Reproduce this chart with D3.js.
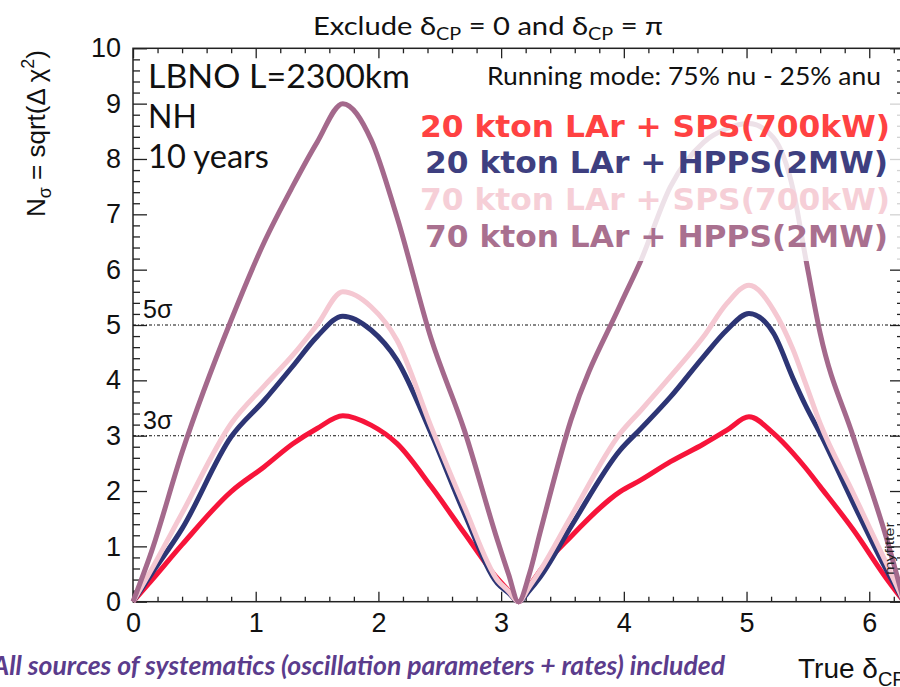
<!DOCTYPE html>
<html>
<head>
<meta charset="utf-8">
<script src="https://cdn.jsdelivr.net/npm/d3@7"></script>
<style>
  html, body { margin: 0; padding: 0; background: #fff; }
  svg { display: block; }
</style>
</head>
<body>
<svg id="chart" width="900" height="687"></svg>
<script>
// True delta_CP values (radians) where the sensitivity curves are sampled
const deltaCP = [0, 0.15, 0.4, 0.8, 1.07, 1.3, 1.5, 1.71, 1.94, 2.15, 2.43, 2.7, 2.97, 3.06, Math.PI,
  3.23, 3.32, 3.57, 3.97, 4.14, 4.38, 4.65, 4.84, 5.02, 5.22, 5.38, 5.48, 5.6, 5.87, 6.14, 2 * Math.PI];

// N_sigma = sqrt(delta chi^2) for each configuration
const lar20Sps  = [0, 0.38, 1.03, 1.99, 2.44, 2.85, 3.13, 3.36, 3.19, 2.86, 2.08, 1.24, 0.42, 0.2, 0,
  0.28, 0.57, 1.18, 1.99, 2.2, 2.53, 2.85, 3.1, 3.34, 3.04, 2.68, 2.42, 2.08, 1.3, 0.42, 0];
const lar20Hpps = [0, 0.5, 1.32, 2.98, 3.64, 4.25, 4.79, 5.16, 4.91, 4.37, 3.04, 1.6, 0.33, 0.16, 0,
  0.2, 0.45, 1.36, 2.74, 3.13, 3.7, 4.43, 4.91, 5.21, 4.85, 4.03, 3.55, 3.04, 1.78, 0.57, 0];
const lar70Sps  = [0, 0.58, 1.6, 3.22, 3.9, 4.45, 5.0, 5.6, 5.33, 4.73, 3.16, 1.72, 0.39, 0.19, 0,
  0.27, 0.57, 1.54, 3.04, 3.46, 4.07, 4.79, 5.39, 5.72, 5.27, 4.55, 3.95, 3.22, 1.96, 0.69, 0];
const lar70Hpps = [0, 0.9, 2.7, 5.09, 6.5, 7.5, 8.3, 9.0, 8.35, 6.96, 4.75, 3.1, 1.11, 0.5, 0,
  0.5, 1.27, 3.29, 5.36, 6.17, 7.5, 8.3, 8.55, 8.64, 8.38, 7.44, 6.23, 4.85, 2.98, 1.15, 0];

const seriesNames = [
  "20 kton LAr + SPS(700kW)",
  "20 kton LAr + HPPS(2MW)",
  "70 kton LAr + SPS(700kW)",
  "70 kton LAr + HPPS(2MW)"
];
const seriesValues = [lar20Sps, lar20Hpps, lar70Sps, lar70Hpps];
const lineColors = ["#f7143a", "#2d3575", "#f5c8d2", "#a4698c"];
const labelColors = ["#ff4242", "#3e3f80", "#f6cfd7", "#a9708f"];

// Axis ticks
const xMajor = [0, 1, 2, 3, 4, 5, 6];
const yMajor = [0, 1, 2, 3, 4, 5, 6, 7, 8, 9, 10];
const sigmaLevels = [3, 5];
const sigmaLabels = ["3σ", "5σ"];

const svg = d3.select("#chart");
const x = d3.scaleLinear().domain([0, 2 * Math.PI]).range([133, 904]);
const y = d3.scaleLinear().domain([0, 10]).range([601.7, 48.3]);

const xMinor = d3.range(0, 6.3, 0.2).filter(v => Math.abs(v - Math.round(v)) > 1e-6);
const yMinor = d3.range(0, 10, 0.2).filter(v => Math.abs(v - Math.round(v)) > 1e-6);

const axisFont = "'Liberation Sans', Arial, Helvetica, sans-serif";
const tickColor = "#222";

function styleAxis(g) {
  g.select(".domain").remove();
  g.selectAll(".tick line").attr("stroke", tickColor).attr("stroke-width", 1.3);
  g.selectAll(".tick text").attr("fill", "#111").style("font-family", axisFont).style("font-size", "27px");
}

// Bottom axis
svg.append("g").attr("transform", `translate(0,${y(0)})`)
  .call(d3.axisBottom(x).tickValues(xMajor).tickSize(-10).tickPadding(11).tickFormat(d3.format("d")))
  .call(styleAxis);
svg.append("g").attr("transform", `translate(0,${y(0)})`)
  .call(d3.axisBottom(x).tickValues(xMinor).tickSize(-5).tickFormat(""))
  .call(styleAxis);
// Top axis (mirrored ticks)
svg.append("g").attr("transform", `translate(0,${y(10)})`)
  .call(d3.axisTop(x).tickValues(xMajor).tickSize(-10).tickFormat(""))
  .call(styleAxis);
svg.append("g").attr("transform", `translate(0,${y(10)})`)
  .call(d3.axisTop(x).tickValues(xMinor).tickSize(-5).tickFormat(""))
  .call(styleAxis);
// Left axis
svg.append("g").attr("transform", `translate(${x(0)},0)`)
  .call(d3.axisLeft(y).tickValues(yMajor).tickSize(-14).tickPadding(12).tickFormat(d3.format("d")))
  .call(styleAxis);
svg.append("g").attr("transform", `translate(${x(0)},0)`)
  .call(d3.axisLeft(y).tickValues(yMinor).tickSize(-7).tickFormat(""))
  .call(styleAxis);
// Right axis (mirrored ticks)
svg.append("g").attr("transform", `translate(${x(2 * Math.PI)},0)`)
  .call(d3.axisRight(y).tickValues(yMajor).tickSize(-14).tickFormat(""))
  .call(styleAxis);
svg.append("g").attr("transform", `translate(${x(2 * Math.PI)},0)`)
  .call(d3.axisRight(y).tickValues(yMinor).tickSize(-7).tickFormat(""))
  .call(styleAxis);

// Frame
svg.append("rect")
  .attr("x", x(0)).attr("y", y(10))
  .attr("width", x(2 * Math.PI) - x(0)).attr("height", y(0) - y(10))
  .attr("fill", "none").attr("stroke", tickColor).attr("stroke-width", 1.5);

// 3 sigma and 5 sigma reference lines
svg.selectAll("line.sigma").data(sigmaLevels).join("line")
  .attr("class", "sigma")
  .attr("x1", x(0)).attr("x2", x(2 * Math.PI))
  .attr("y1", d => y(d)).attr("y2", d => y(d))
  .attr("stroke", "#111").attr("stroke-width", 1.1)
  .attr("stroke-dasharray", "3,2,1,2");
svg.selectAll("text.sigma").data(sigmaLevels).join("text")
  .attr("class", "sigma")
  .attr("x", 143).attr("y", d => y(d) - 7)
  .style("font-family", axisFont).style("font-size", "25px").attr("fill", "#111")
  .text((d, i) => sigmaLabels[i]);

// Sensitivity curves
const line = d3.line()
  .x((d, i) => x(deltaCP[i]))
  .y(d => y(d))
  .curve(d3.curveMonotoneX);

const plot = svg.append("g");
plot.selectAll("path.curve").data(seriesValues).join("path")
  .attr("class", "curve")
  .attr("d", d => line(d))
  .attr("fill", "none")
  .attr("stroke", (d, i) => lineColors[i])
  .attr("stroke-width", 5)
  .attr("stroke-linejoin", "round");

// Translucent legend panel
svg.append("rect")
  .attr("x", 412).attr("y", 98).attr("width", 492).attr("height", 163)
  .attr("fill", "#fff").attr("fill-opacity", 0.8);

const textFont = "Lato, 'Open Sans', sans-serif";

// Legend entries
const legendX = [420, 425, 420, 425];
const legendLen = [470, 463, 470, 463];
const legendBase = [137, 173, 210, 247];
svg.selectAll("text.legend").data(seriesNames).join("text")
  .attr("class", "legend")
  .attr("x", (d, i) => legendX[i]).attr("y", (d, i) => legendBase[i])
  .attr("textLength", (d, i) => legendLen[i]).attr("lengthAdjust", "spacingAndGlyphs")
  .style("font-family", "'DejaVu Sans', Verdana, sans-serif").style("font-weight", "bold")
  .style("font-size", "31px")
  .attr("fill", (d, i) => labelColors[i])
  .text(d => d);

// Title
const title = svg.append("text").attr("x", 313).attr("y", 35)
  .attr("textLength", 350).attr("lengthAdjust", "spacingAndGlyphs")
  .style("font-family", textFont).style("font-size", "25px").attr("fill", "#111");
title.append("tspan").text("Exclude δ");
title.append("tspan").attr("dy", 5).style("font-size", "17px").text("CP");
title.append("tspan").attr("dy", -5).text(" = 0 and δ");
title.append("tspan").attr("dy", 5).style("font-size", "17px").text("CP");
title.append("tspan").attr("dy", -5).text(" = π");

// Experiment info
svg.append("text").attr("x", 148).attr("y", 88)
  .attr("textLength", 262).attr("lengthAdjust", "spacingAndGlyphs")
  .style("font-family", textFont).style("font-size", "32px").attr("fill", "#111")
  .text("LBNO L=2300km");
svg.append("text").attr("x", 148).attr("y", 128)
  .style("font-family", textFont).style("font-size", "32px").attr("fill", "#111")
  .text("NH");
svg.append("text").attr("x", 148).attr("y", 168)
  .attr("textLength", 121).attr("lengthAdjust", "spacingAndGlyphs")
  .style("font-family", textFont).style("font-size", "32px").attr("fill", "#111")
  .text("10 years");
svg.append("text").attr("x", 487).attr("y", 85)
  .attr("textLength", 394).attr("lengthAdjust", "spacingAndGlyphs")
  .style("font-family", textFont).style("font-size", "25px").attr("fill", "#111")
  .text("Running mode: 75% nu - 25% anu");

// Axis titles
const yTitle = svg.append("text")
  .attr("transform", "translate(45,50) rotate(-90)")
  .attr("text-anchor", "end")
  .style("font-family", axisFont).style("font-size", "26px").attr("fill", "#111");
yTitle.append("tspan").text("N");
yTitle.append("tspan").attr("dy", 6).style("font-size", "18px").text("σ");
yTitle.append("tspan").attr("dy", -6).text(" = sqrt(Δ χ");
yTitle.append("tspan").attr("dy", -11).style("font-size", "18px").text("2");
yTitle.append("tspan").attr("dy", 11).text(")");

const xTitle = svg.append("text").attr("x", 798).attr("y", 678)
  .style("font-family", axisFont).style("font-size", "28px").attr("fill", "#111");
xTitle.append("tspan").text("True δ");
xTitle.append("tspan").attr("dy", 8).style("font-size", "20px").text("CP");

// Systematics note
svg.append("text").attr("x", -8).attr("y", 675)
  .attr("textLength", 733).attr("lengthAdjust", "spacingAndGlyphs")
  .style("font-family", textFont).style("font-weight", "bold").style("font-style", "italic")
  .style("font-size", "26px").attr("fill", "#5b3c8c")
  .text("All sources of systematics (oscillation parameters + rates) included");

// Program tag
svg.append("text")
  .attr("transform", "translate(894,575) rotate(-90)")
  .attr("textLength", 53).attr("lengthAdjust", "spacingAndGlyphs")
  .style("font-family", axisFont).style("font-size", "13px").attr("fill", "#222")
  .text("myfitter");
</script>
</body>
</html>
